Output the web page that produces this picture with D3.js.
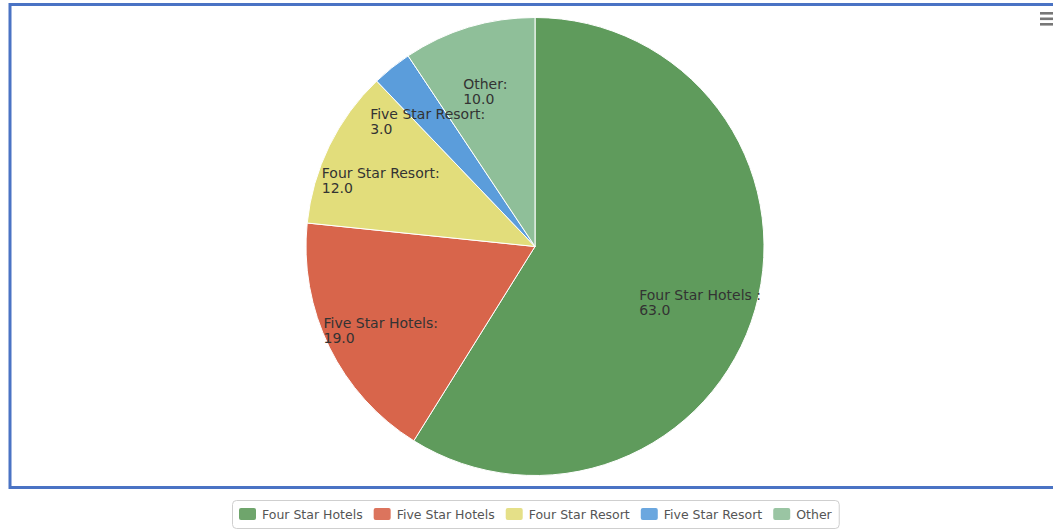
<!DOCTYPE html>
<html>
<head>
<meta charset="utf-8">
<script src="https://cdn.jsdelivr.net/npm/d3@7"></script>
<style>
  html, body { margin: 0; padding: 0; background: #fff; }
  svg { display: block; }
</style>
</head>
<body>
<svg id="chart" width="1053" height="531"></svg>
<script>
// Hotel category shares
const categories = ["Four Star Hotels ", "Five Star Hotels", "Four Star Resort", "Five Star Resort", "Other"];
const values = [63, 19, 12, 3, 10];
const colors = ["#5f9b5c", "#d8654b", "#e2dd7b", "#5b9ddb", "#8fbf99"];

const W = 1053, H = 531;
const svg = d3.select("#chart");

// outer frame
svg.append("rect")
  .attr("x", 10).attr("y", 4.5)
  .attr("width", 1070).attr("height", 483)
  .attr("fill", "none")
  .attr("stroke", "#4a73c4")
  .attr("stroke-width", 3);

// menu icon
const menu = svg.append("g").attr("fill", "#777");
[12, 17.5, 23].forEach(y => {
  menu.append("rect").attr("x", 1040).attr("y", y).attr("width", 14).attr("height", 2.6);
});

// pie
const cx = 535, cy = 246.5, r = 229;
const pie = d3.pie().sort(null).value(d => d.value);
const data = categories.map((c, i) => ({ name: c, value: values[i], color: colors[i] }));
const arcs = pie(data);
const arc = d3.arc().innerRadius(0).outerRadius(r);

const g = svg.append("g").attr("transform", `translate(${cx},${cy})`);
g.selectAll("path.slice")
  .data(arcs)
  .join("path")
  .attr("class", "slice")
  .attr("d", arc)
  .attr("fill", d => d.data.color)
  .attr("stroke", "#fff")
  .attr("stroke-width", 1);

// slice labels: two lines, left-aligned, block centred horizontally on the mid-angle
const fmt = d3.format(".1f");
const labelArc = d3.arc().innerRadius(r * 0.75).outerRadius(r * 0.75);
const lineH = 15;
arcs.forEach(a => {
  const [lx, ly] = labelArc.centroid(a);
  const t = g.append("text")
    .attr("font-family", "'DejaVu Sans', Verdana, sans-serif")
    .attr("font-size", "14px")
    .attr("fill", "#333");
  const l1 = t.append("tspan").text(a.data.name + ":");
  const l2 = t.append("tspan").text(fmt(a.data.value));
  const w = Math.max(l1.node().getComputedTextLength(), l2.node().getComputedTextLength());
  const x0 = lx - w / 2;
  l1.attr("x", x0).attr("y", ly + 6.5);
  l2.attr("x", x0).attr("y", ly + 6.5 + lineH);
});

// legend
const legend = svg.append("g");
const box = legend.append("rect")
  .attr("fill", "#fff")
  .attr("stroke", "#cfcfcf")
  .attr("stroke-width", 1)
  .attr("rx", 4);
const sw = 17, sh = 12, gapIn = 6, gapOut = 11, pad = 7;
let xPos = 0;
data.forEach(d => {
  const it = legend.append("g").attr("class", "item");
  it.append("rect")
    .attr("x", xPos).attr("y", 0)
    .attr("width", sw).attr("height", sh)
    .attr("rx", 2)
    .attr("fill", d.color)
    .attr("opacity", 0.9);
  const tx = it.append("text")
    .attr("x", xPos + sw + gapIn)
    .attr("y", 11)
    .attr("font-family", "'DejaVu Sans', 'Lucida Grande', sans-serif")
    .attr("font-size", "12.5px")
    .attr("fill", "#555")
    .text(d.name.trim());
  xPos += sw + gapIn + tx.node().getComputedTextLength() + gapOut;
});
const legendW = xPos - gapOut + pad * 2;
const lx0 = Math.round(cx - legendW / 2);
const ly0 = 508;
legend.selectAll("g.item").attr("transform", `translate(${lx0 + pad},${ly0})`);
box.attr("x", lx0 + 0.5).attr("y", 500.5).attr("width", legendW).attr("height", 28);
</script>
</body>
</html>
